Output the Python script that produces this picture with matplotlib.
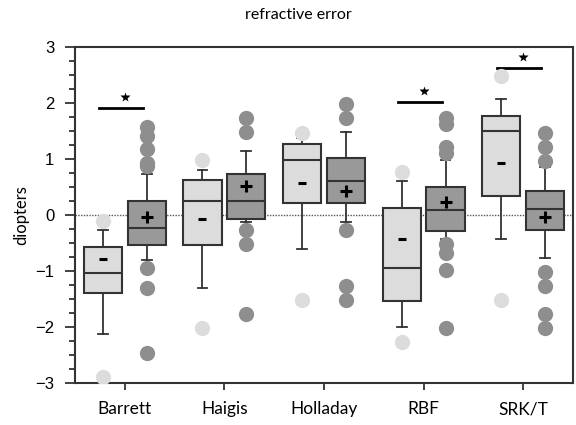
import matplotlib
matplotlib.use("Agg")
import matplotlib.pyplot as plt
import numpy as np

categories = ["Barrett", "Haigis", "Holladay", "RBF", "SRK/T"]

# light (first) group stats
light_q1 = [-1.39, -0.54, 0.21, -1.54, 0.34]
light_med = [-1.04, 0.25, 0.99, -0.95, 1.50]
light_q3 = [-0.58, 0.62, 1.27, 0.12, 1.76]
light_lo = [-2.13, -1.31, -0.60, -2.00, -0.43]
light_hi = [-0.26, 0.80, 1.38, 0.61, 2.07]
light_mean = [-0.79, -0.07, 0.58, -0.42, 0.93]
light_fliers = [[-0.11, -2.89], [0.98, -2.01], [1.47, -1.51], [0.76, -2.27], [2.48, -1.51]]

# dark (second) group stats
dark_q1 = [-0.54, -0.07, 0.21, -0.29, -0.26]
dark_med = [-0.23, 0.25, 0.61, 0.09, 0.11]
dark_q3 = [0.25, 0.74, 1.02, 0.50, 0.42]
dark_lo = [-0.80, -0.12, -0.12, -0.42, -0.76]
dark_hi = [0.74, 1.14, 1.49, 0.98, 0.86]
dark_mean = [-0.03, 0.51, 0.42, 0.23, -0.04]
dark_fliers = [[1.58, 1.41, 1.17, 0.92, 0.87, -0.95, -1.30, -2.46],
               [1.73, 1.48, -0.27, -0.52, -1.77],
               [1.98, 1.73, -0.27, -1.27, -1.51],
               [1.73, 1.63, 1.21, 1.10, -0.52, -0.67, -0.99, -2.01],
               [1.47, 1.22, 0.97, -1.02, -1.27, -1.77, -2.01]]

# significance bars
sig_idx = [0, 3, 4]
sig_y = [1.91, 2.02, 2.63]

light_col = "#dcdcdc"
dark_col = "#999999"
dark_flier_col = "#8e8e8e"
edge = "#333333"

fig = plt.figure(figsize=(5.76, 4.25), dpi=100)
ax = fig.add_axes([75/576, 1-383/425, (573-75)/576, (383-47)/425])

x = np.arange(len(categories))
off = 0.22
w = 0.385

ax.axhline(0, color="#555555", lw=1.0, ls=(0, (1, 1)), zorder=0)

def make_stats(q1, med, q3, lo, hi, mean):
    return [dict(q1=a, med=b, q3=c, whislo=d, whishi=e, mean=m, fliers=[]) for a, b, c, d, e, m in zip(q1, med, q3, lo, hi, mean)]

for stats, fl, pos, col, fcol, mk, msz in [
    (make_stats(light_q1, light_med, light_q3, light_lo, light_hi, light_mean), light_fliers, x - off, light_col, light_col, "_", 6),
    (make_stats(dark_q1, dark_med, dark_q3, dark_lo, dark_hi, dark_mean), dark_fliers, x + off, dark_col, dark_flier_col, "+", 8),
]:
    for p, f in zip(pos, fl):
        ax.plot([p] * len(f), f, "o", ms=11, color=fcol, mec="none", zorder=4)
    ax.bxp(stats, positions=pos, widths=w, capwidths=0.1, patch_artist=True, showmeans=True,
           showfliers=False, manage_ticks=False,
           boxprops=dict(facecolor=col, edgecolor=edge, linewidth=1.5),
           medianprops=dict(color=edge, linewidth=1.5),
           whiskerprops=dict(color=edge, linewidth=1.3),
           capprops=dict(color=edge, linewidth=1.3),
           meanprops=dict(marker=mk, markersize=msz, markeredgewidth=2.2, markeredgecolor="black", markerfacecolor="black"))

for i, yv in zip(sig_idx, sig_y):
    ax.plot([x[i] - off - 0.04, x[i] + off - 0.04], [yv, yv], color="black", lw=2)
    ax.plot(x[i], yv + 0.2, marker="*", color="black", ms=7, mec="none")

ax.set_xlim(-0.5, 4.5)
ax.set_ylim(-3, 3)
ax.set_yticks([-3, -2, -1, 0, 1, 2, 3])
ax.set_yticks(np.arange(-3, 3.01, 0.25), minor=True)
ax.set_xticks(x)
ax.set_xticklabels(categories, fontfamily="Lato", fontsize=12.5)
for lab in ax.get_yticklabels():
    lab.set_fontfamily("Liberation Sans")
    lab.set_fontsize(12)
ax.tick_params(axis="y", which="major", length=7, width=1.3, color="#333333", pad=8)
ax.tick_params(axis="y", which="minor", length=4, width=1.3, color="#333333")
ax.tick_params(axis="x", which="major", length=5, width=1.3, color="#333333", pad=8)
for s in ax.spines.values():
    s.set_linewidth(1.5)
    s.set_color("#333333")
ax.set_ylabel("diopters", fontfamily="Lato", fontsize=12, labelpad=4)
fig.text(298/576, 1-15/425, "refractive error", fontfamily="Lato", fontsize=11.5, ha="center", va="center")

fig.savefig("out.png", dpi=100)
